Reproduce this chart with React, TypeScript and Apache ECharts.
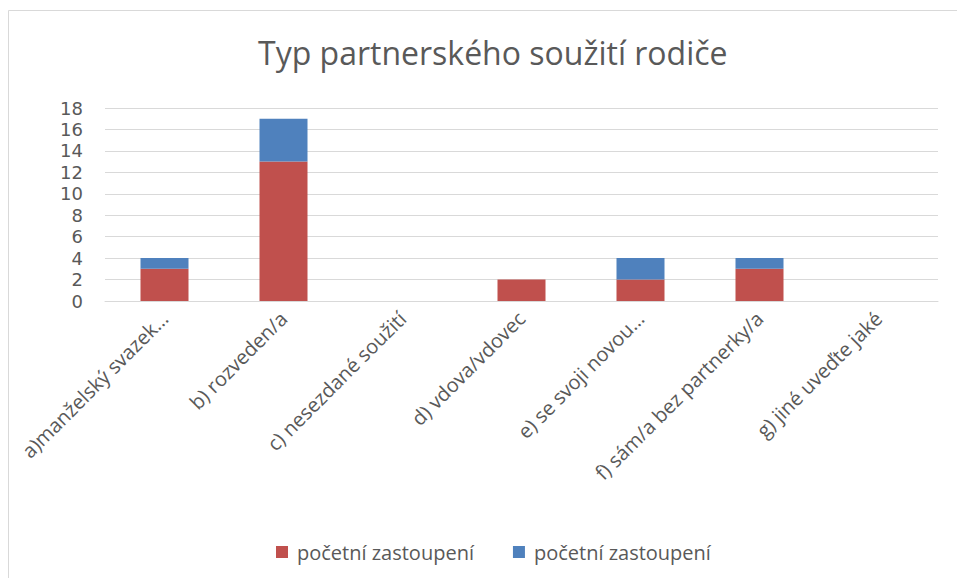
import React, { useEffect, useRef } from "react";
import * as echarts from "echarts";

const categories = [
  "a)manželský svazek…",
  "b) rozveden/a",
  "c) nesezdané soužití",
  "d) vdova/vdovec",
  "e) se svoji novou…",
  "f) sám/a bez partnerky/a",
  "g) jiné uveďte jaké",
];
const redValues = [3, 13, 0, 2, 2, 3, 0];
const blueValues = [1, 4, 0, 0, 2, 1, 0];
const seriesNames = ["početní zastoupení", "početní zastoupení"];
const titleText = "Typ partnerského soužití rodiče";

export default function App() {
  const ref = useRef<HTMLDivElement>(null);
  useEffect(() => {
    if (!ref.current) return;
    const chart = echarts.init(ref.current, null, { renderer: "svg" });
    const font = "'Open Sans', sans-serif";
    chart.setOption({
      animation: false,
      backgroundColor: "#ffffff",
      textStyle: { fontFamily: font },
      title: {
        text: titleText,
        left: 253,
        top: 31,
        textStyle: { fontFamily: font, fontSize: 32, fontWeight: "normal", color: "#595959" },
      },
      graphic: [
        {
          type: "polyline",
          shape: { points: [[8.5, 578], [8.5, 10.5], [957, 10.5]] },
          style: { stroke: "#d9d9d9", fill: "none", lineWidth: 1 },
          silent: true,
        },
      ],
      legend: {
        left: 271,
        top: 537,
        icon: "rect",
        itemWidth: 12,
        itemHeight: 12,
        itemGap: 39,
        data: ["s1", "s2"],
        formatter: (name: string) => (name === "s1" ? seriesNames[0] : seriesNames[1]),
        textStyle: { fontFamily: font, fontSize: 20, color: "#595959", padding: [0, 0, 0, 4] },
      },
      grid: { left: 105, right: 19, top: 108, bottom: 277, containLabel: false },
      xAxis: {
        type: "category",
        data: categories,
        axisTick: { show: false },
        axisLine: { lineStyle: { color: "#d9d9d9", width: 1 } },
        axisLabel: {
          rotate: 45,
          interval: 0,
          margin: 14,
          fontFamily: font,
          fontSize: 20,
          color: "#595959",
        },
      },
      yAxis: {
        type: "value",
        min: 0,
        max: 18,
        interval: 2,
        axisLine: { show: false },
        axisTick: { show: false },
        splitLine: { lineStyle: { color: "#d9d9d9", width: 1 } },
        axisLabel: {
          fontFamily: "'DejaVu Sans', sans-serif",
          fontSize: 18,
          lineHeight: 18,
          color: "#595959",
          margin: 22,
        },
      },
      series: [
        {
          name: "s1",
          type: "bar",
          stack: "total",
          data: redValues,
          barWidth: 48,
          itemStyle: { color: "#c0504d" },
        },
        {
          name: "s2",
          type: "bar",
          stack: "total",
          data: blueValues,
          barWidth: 48,
          itemStyle: { color: "#4f81bd" },
        },
      ],
    });
    return () => chart.dispose();
  }, []);
  return (
    <div
      ref={ref}
      style={{ position: "absolute", left: 0, top: 0, width: 957, height: 578 }}
    />
  );
}
